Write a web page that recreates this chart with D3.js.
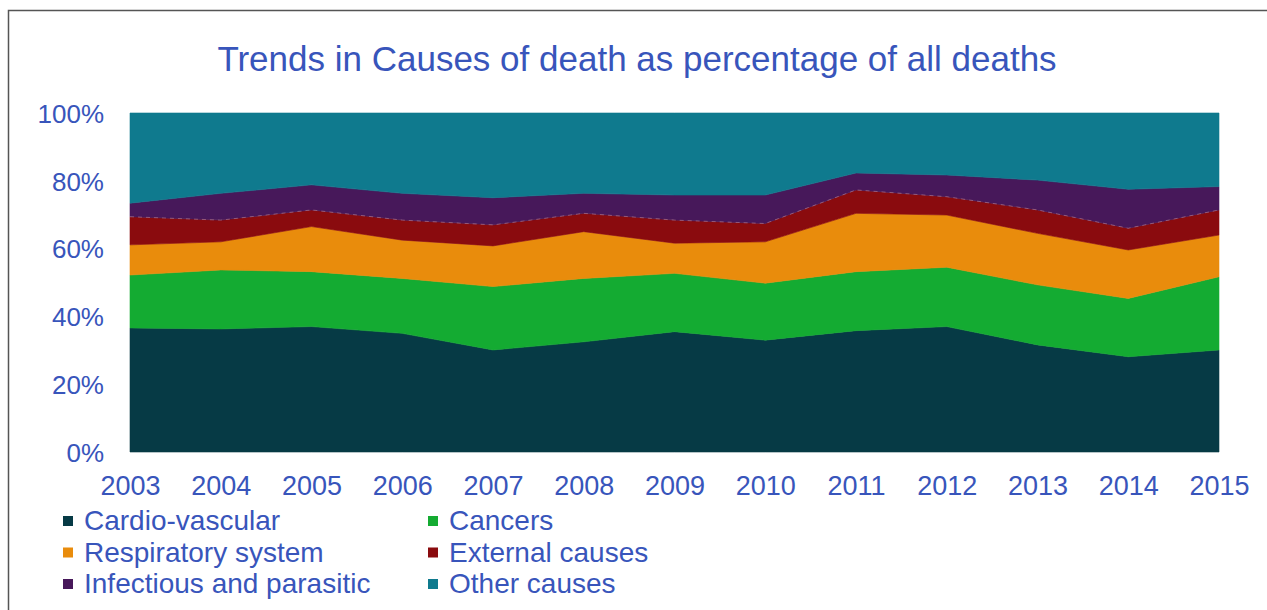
<!DOCTYPE html>
<html>
<head>
<meta charset="utf-8">
<script src="https://cdn.jsdelivr.net/npm/d3@7"></script>
<style>
  html, body { margin: 0; padding: 0; background: #fff; }
  svg { display: block; font-family: "Liberation Sans", Arial, sans-serif; }
</style>
</head>
<body>
<svg id="chart" width="1267" height="610"></svg>
<script>
  // data (share of all deaths, %)
  var years = [2003, 2004, 2005, 2006, 2007, 2008, 2009, 2010, 2011, 2012, 2013, 2014, 2015]
  var causes = ['Cardio-vascular', 'Cancers', 'Respiratory system', 'External causes', 'Infectious and parasitic', 'Other causes']
  var cardio     = [36.6, 36.3, 37.0, 35.0, 30.1, 32.5, 35.5, 33.0, 35.8, 37.0, 31.6, 28.1, 30.1]
  var cancers    = [15.6, 17.4, 16.2, 16.2, 18.7, 18.7, 17.2, 16.8, 17.4, 17.5, 17.7, 17.2, 21.6]
  var respiratory = [8.9, 8.3, 13.3, 11.3, 12.0, 13.8, 8.9, 12.2, 17.2, 15.4, 15.2, 14.3, 12.3]
  var external   = [8.3, 6.4, 4.9, 5.9, 6.2, 5.4, 6.8, 5.4, 6.9, 5.4, 6.9, 6.4, 7.4]
  var infectious = [4.0, 7.9, 7.4, 7.9, 8.0, 5.9, 7.4, 8.4, 5.0, 6.4, 8.8, 11.5, 6.9]
  var other      = [26.6, 23.7, 21.2, 23.7, 25.0, 23.7, 24.2, 24.2, 17.7, 18.3, 19.8, 22.5, 21.7]
  var yTicks = [0, 0.2, 0.4, 0.6, 0.8, 1]

  // constants
  var COLORS = ['#063a45', '#14ab32', '#e98c0c', '#8a0b0e', '#47185a', '#0f7a8e']
  var TEXT_COLOR = '#3855bb'
  var PLOT = { left: 130, right: 1219, top: 113, bottom: 452 }

  var series = [cardio, cancers, respiratory, external, infectious, other]
  var table = years.map(function (year, i) {
    var row = { year: year }
    causes.forEach(function (c, k) { row[c] = series[k][i] })
    return row
  })

  var stacked = d3.stack()
    .keys(causes)
    .offset(d3.stackOffsetExpand)(table)

  var svg = d3.select('#chart')

  // frame
  svg.append('path')
    .attr('d', 'M8.5,620 V10.5 H1280')
    .attr('fill', 'none')
    .attr('stroke', '#555')
    .attr('stroke-width', 1.5)

  var x = d3.scaleLinear()
    .domain(d3.extent(years))
    .range([PLOT.left, PLOT.right])
  var y = d3.scaleLinear()
    .domain([0, 1])
    .range([PLOT.bottom, PLOT.top])

  var area = d3.area()
    .x(function (d) { return x(d.data.year) })
    .y0(function (d) { return y(d[0]) })
    .y1(function (d) { return y(d[1]) })

  svg.append('g')
    .selectAll('path')
    .data(stacked)
    .join('path')
    .attr('fill', function (d, i) { return COLORS[i] })
    .attr('stroke', function (d, i) { return COLORS[i] })
    .attr('stroke-width', 0.6)
    .attr('d', area)

  // faint dashed seam between external and infectious
  svg.append('path')
    .datum(stacked[3])
    .attr('fill', 'none')
    .attr('stroke', '#d9a0a8')
    .attr('stroke-opacity', 0.45)
    .attr('stroke-width', 1)
    .attr('stroke-dasharray', '4,4')
    .attr('d', d3.line()
      .x(function (d) { return x(d.data.year) })
      .y(function (d) { return y(d[1]) }))

  // title
  svg.append('text')
    .attr('x', 637)
    .attr('y', 71)
    .attr('text-anchor', 'middle')
    .attr('fill', TEXT_COLOR)
    .style('font-size', '35px')
    .text('Trends in Causes of death as percentage of all deaths')

  // axes
  var xAxis = svg.append('g')
    .attr('transform', 'translate(0,' + PLOT.bottom + ')')
    .call(d3.axisBottom(x).tickValues(years).tickFormat(d3.format('d')).tickSize(0).tickPadding(0))
  xAxis.select('.domain').remove()
  xAxis.selectAll('text')
    .attr('y', 43)
    .attr('dy', 0)
    .attr('fill', TEXT_COLOR)
    .style('font-size', '27px')
    .style('font-family', '"Liberation Sans", Arial, sans-serif')

  var yAxis = svg.append('g')
    .attr('transform', 'translate(' + 104 + ',0)')
    .call(d3.axisLeft(y).tickValues(yTicks).tickFormat(d3.format('.0%')).tickSize(0).tickPadding(0))
  yAxis.select('.domain').remove()
  yAxis.selectAll('text')
    .attr('fill', TEXT_COLOR)
    .attr('dy', '0.36em')
    .style('font-size', '26px')
    .style('font-family', '"Liberation Sans", Arial, sans-serif')

  // legend
  var legend = svg.append('g')
  causes.forEach(function (name, i) {
    var col = i % 2, row = Math.floor(i / 2)
    var lx = col === 0 ? 63 : 428
    var ly = 530 + row * 31.5
    legend.append('rect')
      .attr('x', lx)
      .attr('y', ly - 14)
      .attr('width', 10)
      .attr('height', 10)
      .attr('fill', COLORS[i])
    legend.append('text')
      .attr('x', lx + 21)
      .attr('y', ly)
      .attr('fill', TEXT_COLOR)
      .style('font-size', '28px')
      .text(name)
  })
</script>
</body>
</html>
